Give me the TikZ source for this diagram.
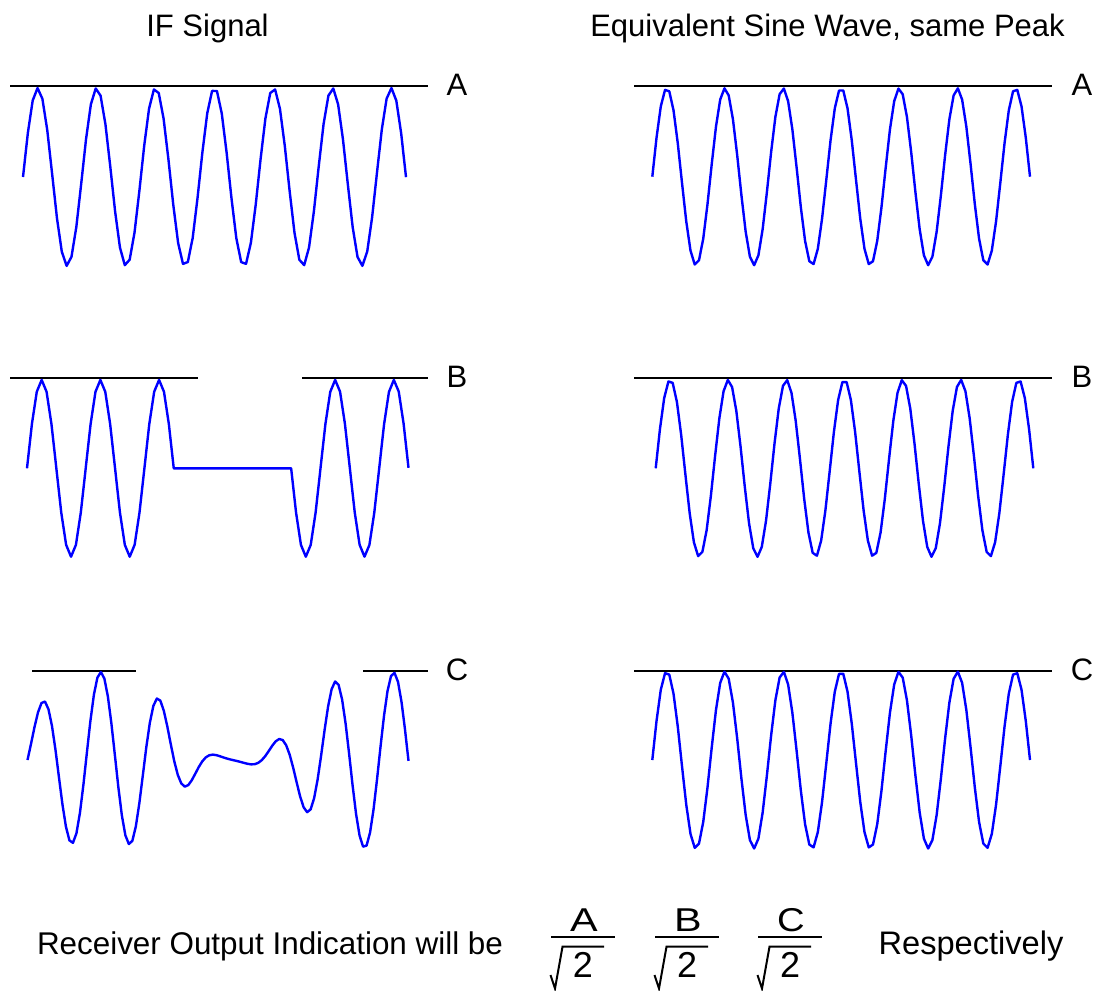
\documentclass[tikz,border=0pt]{standalone}
\usepackage{fontspec}
\usepackage{graphicx}
\setmainfont{Liberation Sans}
\tikzset{
  wave/.style={draw=blue, line width=1.2pt, line join=round},
  peakline/.style={draw=black, line width=1pt},
  txt/.style={font=\fontsize{15.5}{18}\selectfont, inner sep=0pt, anchor=base}
}

\begin{document}
\begin{tikzpicture}[x=0.5pt, y=-0.5pt]
\useasboundingbox (0,0) rectangle (1096,990);
% headings
\node[txt] (hdif) at (207.5,36.7) {IF Signal};
\node[txt] (hdeq) at (827.5,36.7) {Equivalent Sine Wave, same Peak};
% peak lines and row letters
\draw[peakline] (10,86) -- (428,86);
\draw[peakline] (10,378.3) -- (198,378.3) (302,378.3) -- (428,378.3);
\draw[peakline] (32,670.7) -- (136,670.7) (363,670.7) -- (428,670.7);
\foreach \lab/\yl in {A/86,B/378.3,C/670.7}{
  \draw[peakline] (634,\yl) -- (1052,\yl);
  \node[txt] (l\lab) at (457,\yl+9.5) {\lab};
  \node[txt] (r\lab) at (1082,\yl+9.5) {\lab};
}
% IF signal, left column
\draw[wave] plot[domain=23:406, samples=80] (\x,{177-89*sin(360/58.92*(\x-23))});
\draw[wave] plot[domain=27:173.75, samples=31] (\x,{468.3-88.4*sin(360/58.7*(\x-27))})
  -- plot[domain=291.15:408.5, samples=25] (\x,{468.3-88.4*sin(360/58.7*(\x-27))});
\draw[wave] plot[domain=27.5:408.5, samples=110]
  (\x,{760-(88*exp(-((abs(\x-102)/80)^3))+88*exp(-((abs(\x-378)/88.5)^3)))*sin(360/58.6*(\x-27.5))});
% equivalent sine waves, right column
\foreach \ym/\xs/\xe in {176.7/652.3/1030,468.3/655.7/1033.3,760/652.3/1030}
  \draw[wave] plot[domain=\xs:\xe, samples=90] (\x,{\ym-88.5*sin(2340/(\xe-\xs)*(\x-\xs))});
% bottom line
\node[txt, font=\fontsize{15.7}{18}\selectfont] (rcv) at (270,954) {Receiver Output Indication will be};
\node[txt, font=\fontsize{16.3}{18}\selectfont] (resp) at (971,954) {Respectively};
\foreach \lab/\xc in {A/583,B/687,C/790}{
  \node[txt, font=\fontsize{16.5}{18}\selectfont] (num\lab) at (\xc+1,931) {\resizebox{13.8pt}{\height}{\lab}};
  \draw[peakline] (\xc-32,937.3) -- (\xc+32,937.3);
  \node[txt, font=\fontsize{18}{20}\selectfont] (den\lab) at (\xc,977.7) {2};
  \draw[line width=1pt] (\xc-32.5,975) -- (\xc-28,988.5) -- (\xc-20.5,946.7) -- (\xc+21,946.7);
}
\end{tikzpicture}
\end{document}
